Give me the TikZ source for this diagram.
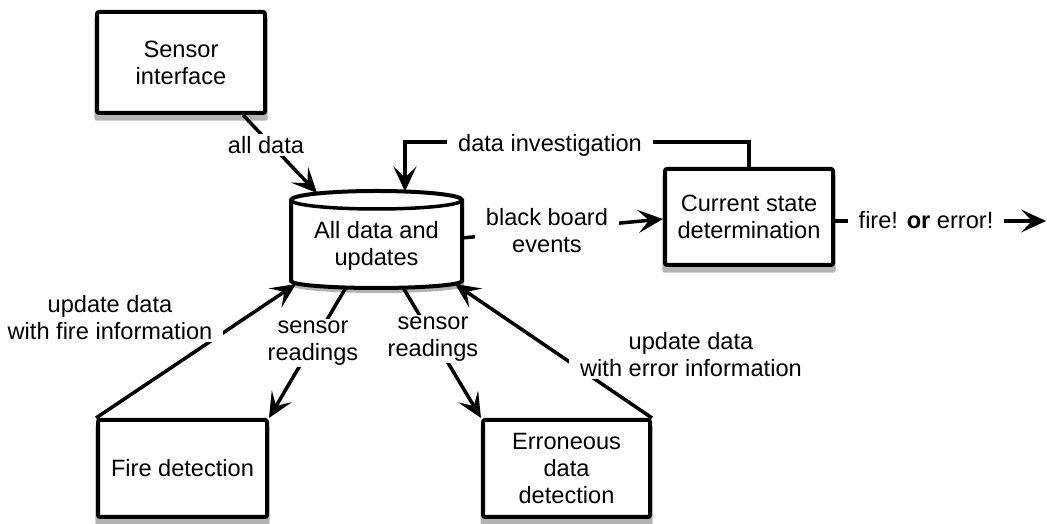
\documentclass[tikz,border=0pt]{standalone}
\usepackage{fontspec}
\setmainfont{Liberation Sans}
\usetikzlibrary{arrows.meta,shadows,calc}

\begin{document}
\begin{tikzpicture}[x=1pt,y=1pt,
  font=\fontsize{23.6}{27}\selectfont,
  shadowcol/.style={fill=black!40, opacity=0.75},
  blk/.style={draw, line width=4pt, rounded corners=2pt, fill=white, align=center,
    inner sep=0pt,
    drop shadow={shadow xshift=0pt, shadow yshift=-6pt, shadow scale=1.03, shadowcol}},
  lbl/.style={fill=white, align=center, inner xsep=11pt, inner ysep=2pt},
  conn/.style={line width=3.5pt},
  arr/.style={conn, -{Stealth[length=25pt,width=23pt,inset=11pt]}},
]
\useasboundingbox (0,0) rectangle (1047,524);

% the blackboard store, drawn as a cylinder
\coordinate (dbc) at (376.5,278);
\coordinate (dbTL) at ($(dbc)+(-85.5,46)$);
\coordinate (dbTR) at ($(dbc)+(85.5,46)$);
\coordinate (dbBL) at ($(dbc)+(-85.5,-35)$);
\fill[shadowcol, transform canvas={xshift=2pt,yshift=-5pt}]
  (dbTL) -- (dbBL) arc[start angle=180,end angle=360,x radius=85.5,y radius=7]
  -- (dbTR) arc[start angle=0,end angle=180,x radius=85.5,y radius=9] -- cycle;
\filldraw[fill=white, line width=4pt]
  (dbTL) -- (dbBL) arc[start angle=180,end angle=360,x radius=85.5,y radius=7]
  -- (dbTR) arc[start angle=0,end angle=180,x radius=85.5,y radius=9] -- cycle;
\draw[line width=3.5pt] (dbTL) arc[start angle=180,end angle=360,x radius=85.5,y radius=9];
\node[align=center] (db) at (dbc) {All data and\\updates};

% attachment points on the cylinder
\coordinate (dbIn1) at ($(dbc)+(-59.5,53)$);
\coordinate (dbIn2) at ($(dbc)+(28.5,54.5)$);
\coordinate (dbR)   at ($(dbc)+(85.5,8)$);
\coordinate (dbF)   at ($(dbc)+(-80.5,-38)$);
\coordinate (dbS1)  at ($(dbc)+(-30.5,-41.5)$);
\coordinate (dbS2)  at ($(dbc)+(26.5,-41.5)$);
\coordinate (dbE)   at ($(dbc)+(78.5,-38)$);

% processing blocks
\node[blk, minimum width=168pt, minimum height=101pt] (si) at (181,461.5) {Sensor\\interface};
\node[blk, minimum width=168pt, minimum height=96pt] (cs) at (749,307) {Current state\\determination};
\node[blk, minimum width=169pt, minimum height=97pt] (fd) at (182.5,55.5) {Fire detection};
\node[blk, minimum width=167pt, minimum height=97pt] (ed) at (566.5,55.5) {Erroneous\\data\\detection};
\coordinate (out) at (1046,303);

% data flows
\draw[arr] ([xshift=62pt]si.south) -- (dbIn1);
\draw[arr] (cs.north) -- ++(0,25) -| (dbIn2);
\draw[arr] (dbR) -- ([yshift=-2pt]cs.west);
\draw[arr] ([yshift=-4pt]cs.east) -- (out);
\draw[arr] (fd.north west) -- (dbF);
\draw[arr] (dbS1) -- (fd.north east);
\draw[arr] (dbS2) -- (ed.north west);
\draw[arr] (ed.north east) -- (dbE);

% flow labels
\node[lbl] (l1) at (266,379) {all data};
\node[lbl] (l2) at (550,379) {data investigation};
\node[lbl] (l3) at (547,293) {black board\\events};
\node[lbl] (l4) at (926,304) {fire! \textbf{or} error!};
\node[lbl] (l5) at (110,206) {update data\\with fire information};
\node[lbl] (l6) at (313,181) {sensor\\readings};
\node[lbl] (l7) at (433,185) {sensor\\readings};
\node[lbl] (l8) at (691,169) {update data\\with error information};
\end{tikzpicture}
\end{document}
